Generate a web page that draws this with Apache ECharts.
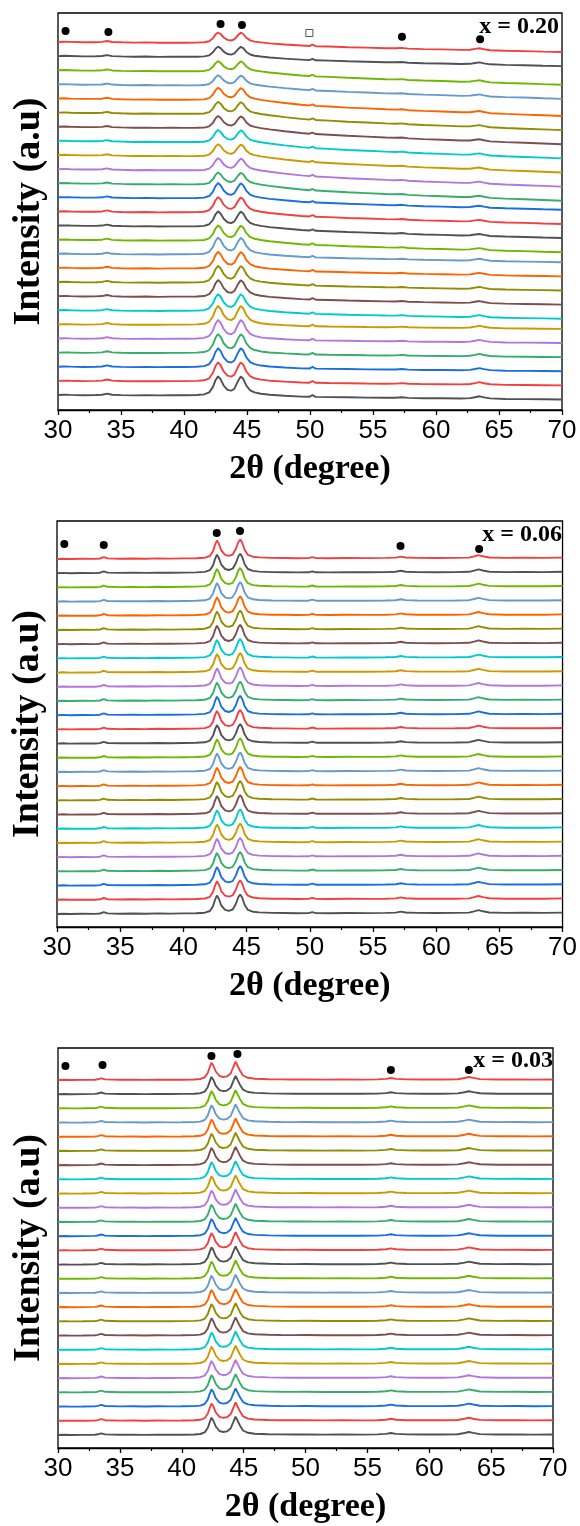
<!DOCTYPE html>
<html><head><meta charset="utf-8">
<script src="https://cdn.jsdelivr.net/npm/echarts@6/dist/echarts.min.js"></script>
<style>html,body{margin:0;padding:0;background:#fff}#c{width:580px;height:1526px}</style>
</head><body><div id="c"></div>
<script>
// ---------- data ----------
const X_TICKS = [30, 35, 40, 45, 50, 55, 60, 65, 70];
const PANEL_LABELS = ['x = 0.20', 'x = 0.06', 'x = 0.03'];
const X_TITLE = '2θ (degree)';
const Y_TITLE = 'Intensity (a.u)';
// Origin palette, from bottom pattern upward
const COLORS = ['#515151', '#F14040', '#1A6FDF', '#37AD6B', '#B177DE', '#CC9900', '#00CBCC', '#7D4E4E', '#8E8E00', '#FB6501', '#6699CC', '#6FB802'];

// Panel 1 (x = 0.20): 2θ grid and read profiles (intensity, arbitrary units)
const THETA_020 = [30,30.5,31,32,33,33.5,33.9,34.3,35,36,37,38,39,40,41,41.6,42.0,42.3,42.5,42.7,42.9,43.15,43.45,43.75,44.0,44.3,44.5,44.7,44.95,45.25,45.6,46.1,46.8,48,49.3,49.95,50.2,50.45,51.5,53,54.5,56,56.8,57.3,57.8,59,60.5,62,62.7,63.1,63.45,63.8,64.3,65.5,67,68.5,70];
const I020_A = [0,0.3,0.1,-0.3,-0.2,0.1,1.0,0,-0.3,-0.6,-0.4,-0.8,-0.6,-0.7,-0.6,-0.3,0.8,3.8,7.4,9.5,8.0,4.5,2.1,1.5,2.7,7.0,9.3,8.0,4.2,1.6,0.4,-0.4,-1.4,-2.5,-3.5,-4.0,-2.7,-4.2,-4.5,-5.2,-5.6,-6.2,-6.2,-5.9,-6.6,-7.1,-7.4,-7.9,-7.7,-6.9,-6.3,-7.2,-8.2,-8.8,-9.1,-9.6,-10];
const I020_B = [0,0.2,0,-0.4,-0.3,-0.1,0.8,-0.2,-0.6,-0.9,-0.7,-1.0,-0.9,-1.0,-1.0,-0.7,0.4,3.4,7.0,9.1,7.5,4.0,1.6,1.0,2.2,6.5,8.8,7.5,3.7,1.0,-0.2,-1.1,-2.3,-3.8,-5.2,-5.8,-4.5,-6.1,-6.6,-7.5,-8.2,-9.0,-9.1,-8.9,-9.7,-10.3,-10.8,-11.5,-11.3,-10.6,-10.0,-11.0,-12.1,-12.8,-13.2,-13.9,-14.5];
const I020_C = [0,0.2,-0.1,-0.4,-0.4,-0.2,0.7,-0.4,-0.7,-1.1,-0.9,-1.2,-1.1,-1.2,-1.1,-0.9,0.4,4.0,8.3,10.8,9.0,4.7,1.9,1.2,2.6,7.7,10.4,8.9,4.3,1.2,-0.2,-1.4,-2.7,-4.5,-6.3,-7.0,-5.8,-7.35,-8.0,-9.1,-9.9,-10.8,-11.1,-10.8,-11.7,-12.4,-13.0,-13.8,-13.8,-13.0,-12.5,-13.5,-14.7,-15.4,-16.1,-16.8,-17.5];
const I020_D = [0,0.2,0,-0.3,-0.3,0,1.0,-0.2,-0.5,-0.8,-0.6,-0.9,-0.8,-0.8,-0.7,-0.3,1.3,5.8,11.2,14.3,12.1,6.8,3.3,2.5,4.2,10.6,14.0,12.1,6.5,2.7,0.9,-0.3,-1.6,-3.0,-4.5,-5.0,-3.7,-5.25,-5.7,-6.5,-7.1,-7.7,-7.9,-7.5,-8.3,-8.9,-9.3,-9.9,-9.7,-8.9,-8.4,-9.3,-10.4,-11.0,-11.4,-12.0,-12.5];
const I020_E = [0,0.3,0,-0.3,-0.2,0.1,1.2,0,-0.3,-0.6,-0.4,-0.7,-0.5,-0.5,-0.3,0.1,2.0,6.9,12.8,16.2,13.8,8.0,4.2,3.3,5.2,12.3,16.0,13.9,7.8,3.7,1.7,0.4,-0.7,-1.9,-3.0,-3.4,-2.0,-3.6,-3.9,-4.4,-4.8,-5.2,-5.3,-4.9,-5.6,-6.0,-6.3,-6.7,-6.5,-5.6,-4.9,-5.8,-7.0,-7.5,-7.8,-8.1,-8.5];
const I020_F = [0,0.3,0.1,-0.2,0,0.3,1.4,0.3,-0.1,-0.4,-0.2,-0.4,-0.2,-0.2,0,0.6,2.6,8.1,14.8,18.6,15.9,9.4,5.2,4.3,6.3,14.3,18.5,16.2,9.3,4.7,2.6,1.2,0.2,-0.7,-1.6,-1.8,-0.2,-1.9,-2.1,-2.3,-2.6,-2.8,-2.7,-2.2,-2.9,-3.2,-3.3,-3.5,-3.1,-2.2,-1.3,-2.4,-3.4,-4.0,-4.1,-4.3,-4.5];
// which profile each of the 26 patterns follows (bottom pattern first)
const MAP_020 = [5,5,5,5,5,5,4,4,4,4,4,3,3,3,3,2,2,2,2,2,2,2,1,1,0,0];
const DOTS_020 = [[30.6,364],[34.0,363],[42.9,371],[44.6,370],[57.3,358.3],[63.5,355.7]];
const SQUARES_020 = [[49.95,362]];

// Panel 2 (x = 0.06)
const THETA_006 = [30,30.5,31,32,33,33.4,33.7,34.0,35,36,37,38,39,40,41,41.7,42.1,42.35,42.5,42.65,42.8,43.0,43.3,43.6,43.9,44.15,44.35,44.5,44.65,44.85,45.1,45.5,46,47,48,49,49.9,50.2,50.5,51.5,53,54.5,56,56.8,57.2,57.6,58.5,60,61.5,62.6,63.0,63.35,63.7,64.2,65.5,67,68.5,70];
const I006 = [0,0.3,0,0.2,0.1,0.5,1.8,0.6,0.3,0.5,0.3,0.6,0.4,0.6,0.8,1.3,3.0,8,14,18.5,15.5,8.5,4.2,3.2,4.5,10,17,19.5,16.5,9,4.2,2.3,1.6,1.1,1.0,0.8,0.9,1.9,0.9,0.8,1.0,0.9,1.1,1.4,2.4,1.5,1.1,1.0,1.1,1.4,2.6,3.8,2.7,1.5,1.1,1.2,1.1,1.4];
const DOTS_006 = [[30.58,370],[33.7,369],[42.64,381],[44.48,383],[57.18,368],[63.4,365]];

// Panel 3 (x = 0.03)
const THETA_003 = [30,30.5,31,32,33,33.2,33.5,33.8,35,36,37,38,39,40,41,41.5,41.85,42.1,42.25,42.4,42.55,42.75,43.05,43.35,43.65,43.95,44.2,44.35,44.5,44.7,44.95,45.35,45.9,47,48,49,50,51.5,53,54.5,55.8,56.5,56.9,57.3,58.2,59.5,61,62.3,62.85,63.2,63.55,64.1,65.5,67,68.5,70];
const I003 = [0,0.2,0,0.1,0.3,0.7,1.7,0.6,0.2,0.3,0.1,0.3,0.2,0.3,0.5,1.0,2.6,7,12.5,17.3,14.5,8.5,4.0,3.0,3.6,6.5,14,18.3,16.5,9.5,4.5,2.2,1.3,0.8,0.6,0.5,0.6,0.4,0.5,0.4,0.6,1.1,2.0,1.1,0.6,0.5,0.5,0.8,2.0,3.0,2.1,0.9,0.5,0.6,0.4,0.5];
const DOTS_003 = [[30.6,369],[33.6,370],[42.4,379],[44.5,381],[56.9,365],[63.2,365]];

const N_PATTERNS = 26;

// ---------- layout ----------
const PANELS = [
  {theta: THETA_020, profiles: [I020_A,I020_B,I020_C,I020_D,I020_E,I020_F], map: MAP_020, step: 14.12, yMin: -15, yMax: 382,
   grid: {left: 58, top: 13, width: 504, height: 397}, dots: DOTS_020, squares: SQUARES_020, labelPos: [559, 27]},
  {theta: THETA_006, profiles: [I006], map: null, step: 14.2, yMin: -13, yMax: 393,
   grid: {left: 57, top: 521, width: 507, height: 406}, dots: DOTS_006, squares: [], labelPos: [562, 535]},
  {theta: THETA_003, profiles: [I003], map: null, step: 14.2, yMin: -13, yMax: 387,
   grid: {left: 58, top: 1048, width: 495, height: 400}, dots: DOTS_003, squares: [], labelPos: [553, 1061]}
];

const SANS = '"Liberation Sans", Arial, sans-serif';
const SERIF = '"Liberation Serif", "Times New Roman", serif';

const grids = [], xAxes = [], yAxes = [], series = [], graphics = [];
PANELS.forEach((p, k) => {
  grids.push(Object.assign({show: true, borderColor: '#000', borderWidth: 1.3, backgroundColor: 'transparent', containLabel: false}, p.grid));
  xAxes.push({
    type: 'value', gridIndex: k, min: X_TICKS[0], max: X_TICKS[X_TICKS.length - 1], interval: 5,
    axisLine: {show: true, onZero: false, lineStyle: {color: '#000', width: 1.3}},
    axisTick: {show: true, inside: false, length: 5, lineStyle: {color: '#000', width: 1.3}},
    minorTick: {show: true, splitNumber: 2, length: 3, lineStyle: {color: '#000', width: 1.2}},
    splitLine: {show: false},
    axisLabel: {color: '#000', fontSize: 26, fontFamily: SANS, margin: 8},
    name: X_TITLE, nameLocation: 'middle', nameGap: 42,
    nameTextStyle: {color: '#000', fontSize: 34, fontWeight: 'bold', fontFamily: SERIF}
  });
  yAxes.push({
    type: 'value', gridIndex: k, min: p.yMin, max: p.yMax,
    axisLine: {show: false}, axisTick: {show: false}, axisLabel: {show: false}, splitLine: {show: false},
    name: Y_TITLE, nameLocation: 'middle', nameGap: 10,
    nameTextStyle: {color: '#000', fontSize: 38, fontWeight: 'bold', fontFamily: SERIF}
  });
  for (let i = 0; i < N_PATTERNS; i++) {
    const prof = p.profiles[p.map ? p.map[i] : 0];
    const off = i * p.step;
    series.push({
      type: 'line', xAxisIndex: k, yAxisIndex: k, showSymbol: false, symbol: 'none', silent: true,
      lineStyle: {color: COLORS[i % COLORS.length], width: 1.9},
      data: p.theta.map((t, j) => [t, prof[j] + off])
    });
  }
  series.push({type: 'scatter', xAxisIndex: k, yAxisIndex: k, symbol: 'circle', symbolSize: 8, silent: true,
    itemStyle: {color: '#000', opacity: 1}, data: p.dots, z: 5});
  if (p.squares.length) {
    series.push({type: 'scatter', xAxisIndex: k, yAxisIndex: k, symbol: 'rect', symbolSize: 7, silent: true,
      itemStyle: {color: '#fff', borderColor: '#555', borderWidth: 1, opacity: 1}, data: p.squares, z: 5});
  }
  graphics.push({type: 'text', x: p.labelPos[0], y: p.labelPos[1], z: 10,
    style: {text: PANEL_LABELS[k], fill: '#000', font: 'bold 24px ' + SERIF, textAlign: 'right', textVerticalAlign: 'middle'}});
});

const chart = echarts.init(document.getElementById('c'), null, {renderer: 'canvas'});
chart.setOption({
  animation: false,
  backgroundColor: '#fff',
  grid: grids, xAxis: xAxes, yAxis: yAxes, series: series, graphic: graphics
});
</script>
</body></html>
